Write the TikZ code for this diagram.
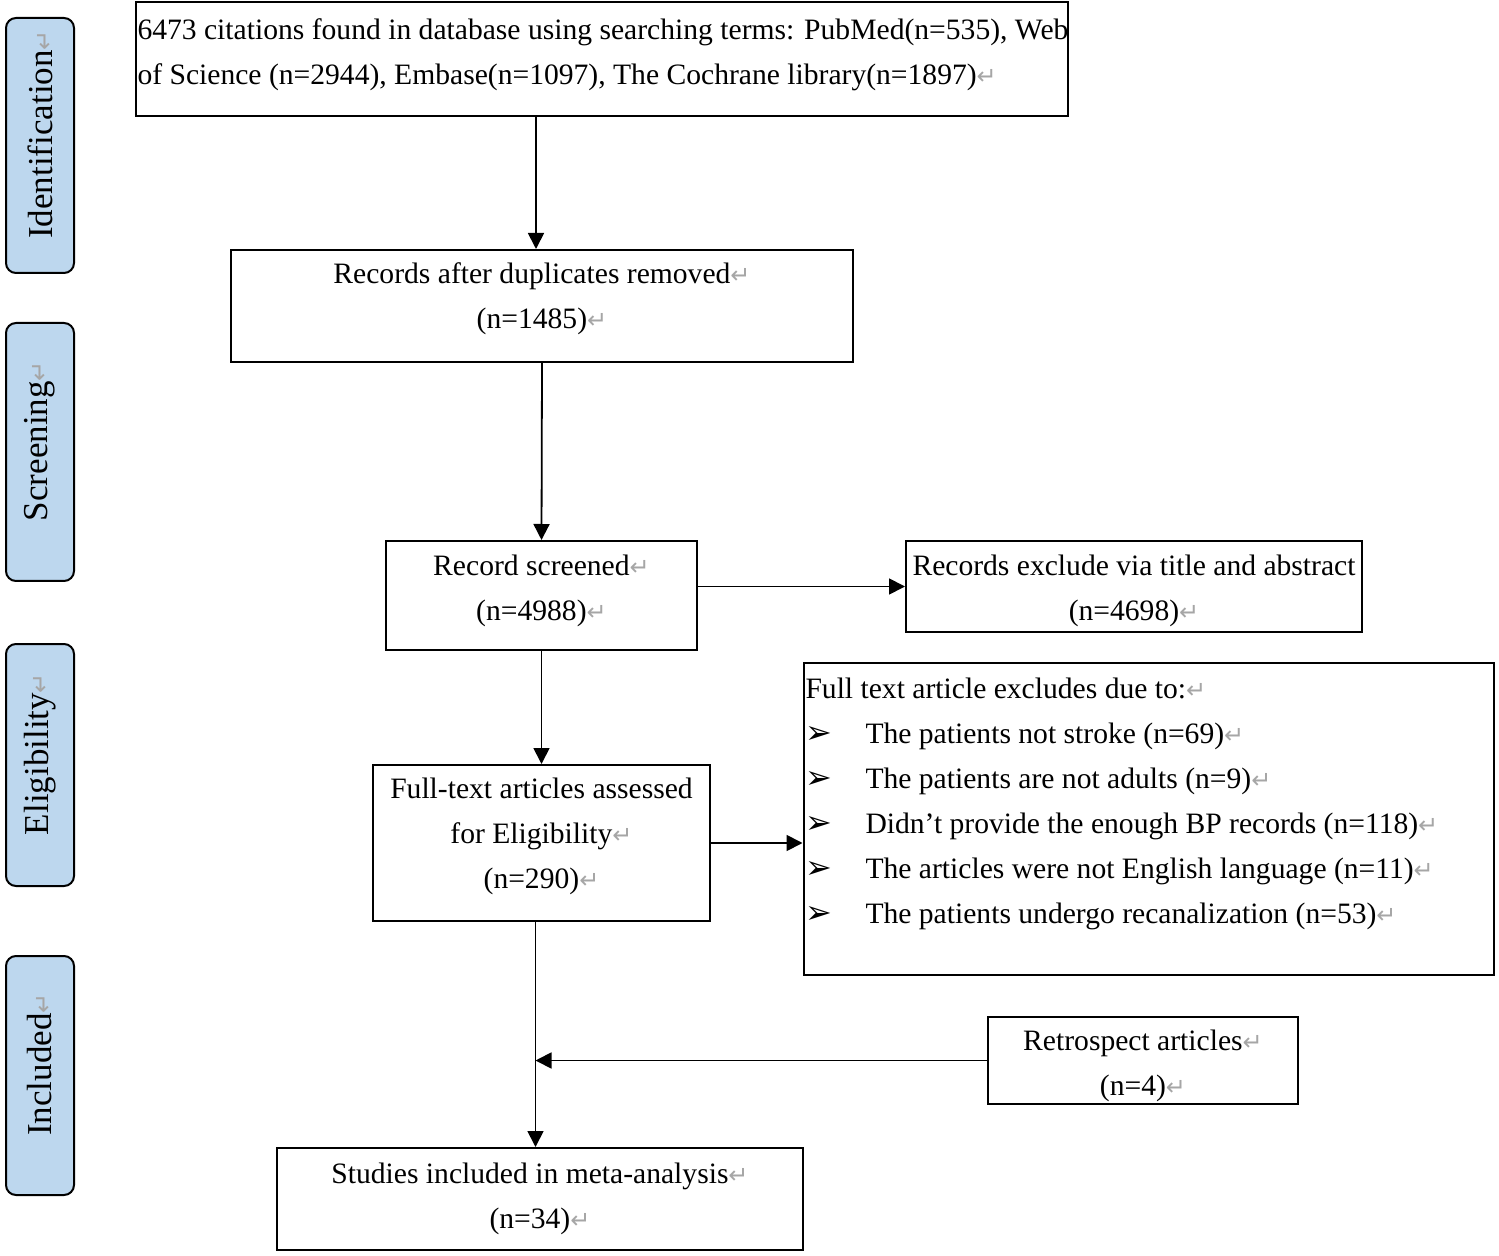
\documentclass[tikz,border=0pt]{standalone}
\usepackage{fontspec}
\setmainfont{Liberation Serif}
\newfontfamily\symfont{DejaVu Sans}
\usepackage{tikz}
\usetikzlibrary{arrows.meta}
\usetikzlibrary{calc}

\definecolor{stageblue}{RGB}{189,215,238}
\newcommand{\pmark}{{\symfont\color{black!35}\fontsize{12}{12}\selectfont ↵}}   %paragraph mark.
\newcommand{\exbullet}{\makebox[30pt][l]{{\symfont\fontsize{16}{16}\selectfont ➢}}}

\begin{document}
\begin{tikzpicture}[x=0.5pt,y=-0.5pt,
	every node/.style={font=\fontsize{14.8}{22.5}\selectfont},
	box/.style={draw,line width=1pt,inner sep=1pt,align=center},
	stage/.style={draw,line width=1pt,rounded corners=5pt,fill=stageblue,rotate=90,
		minimum height=34pt,font=\fontsize{17.5}{17.5}\selectfont},
	arr/.style={-{Triangle[length=8pt,width=8pt]},line width=0.9pt}]
				\useasboundingbox (0,0) rectangle (1499,1256);
				
				% Stages on the left.
				\node[stage,minimum width=127.5pt] (ident) at (40,145.5) {\hspace{11pt}Identification\pmark};
				\node[stage,minimum width=129pt] (screen) at (40,452) {\hspace{11pt}Screening\pmark};
				\node[stage,minimum width=121pt] (elig) at (40,765) {\hspace{11pt}Eligibility\pmark};
				\node[stage,minimum width=119.5pt] (inclst) at (40,1075.5) {\hspace{11pt}Included\pmark};
				
				% Main column.
				\node[box,inner xsep=1pt,inner ysep=8.5pt] (cit) at (601.5,59)
				{\parbox[c][40pt][t]{464pt}{\mbox{6473 citations found in database using searching terms: PubMed(n=535), Web}\\ \mbox{of Science (n=2944), Embase(n=1097), The Cochrane library(n=1897)\pmark}}};
				\node[box,minimum width=311pt,minimum height=56pt,text depth=10.3pt] (recs) at (542,306)
				{Records after duplicates removed\pmark\\(n=1485)\pmark};
				\node[box,minimum width=155.5pt,minimum height=54.5pt,text depth=7.3pt] (scr) at (541.5,595.5)
				{Record screened\pmark\\(n=4988)\pmark};
				\node[box,minimum width=168.5pt,minimum height=78pt,text depth=9.3pt] (full) at (541.5,843)
				{Full-text articles assessed\\for Eligibility\pmark\\(n=290)\pmark};
				\node[box,minimum width=263pt,minimum height=51pt] (incl) at (540,1199)
				{Studies included in meta-analysis\pmark\\(n=34)\pmark};
				
				% Side boxes.
				\node[box,minimum width=228pt,minimum height=45.5pt] (excl) at (1134,586.5)
				{\rule{0pt}{15pt}Records exclude via title and abstract\\(n=4698)\pmark};
				\node[box,inner xsep=1pt,inner ysep=7.5pt] (ftex) at (1148.5,819)
				{\parbox[c][141pt][t]{343pt}{\raggedright Full text article excludes due to:\pmark\\
						\exbullet The patients not stroke (n=69)\pmark\\
						\exbullet The patients are not adults (n=9)\pmark\\
						\exbullet Didn’t provide the enough BP records (n=118)\pmark\\
						\exbullet The articles were not English language (n=11)\pmark\\
						\exbullet The patients undergo recanalization (n=53)\pmark}};
				\node[box,minimum width=155pt,minimum height=43.5pt] (retro) at (1143,1060.5)
				{\rule{0pt}{16pt}Retrospect articles\pmark\\(n=4)\pmark};
				
				% Arrows.
				\coordinate (join) at ([xshift=-3pt]full.south |- retro.west);
				\draw[arr] ([xshift=-3pt]cit.south -| recs.north) -- ([xshift=-3pt]recs.north);
				\draw[arr] (recs.south) -- (scr.north);
				\draw[arr] (scr.east |- excl.west) -- (excl.west);
				\draw[arr] (scr.south) -- (full.south |- scr.south) -- (full.north);
				\draw[arr] (full.east) -- (full.east -| ftex.west);
				\draw[arr] ([xshift=-3pt]full.south) -- ([xshift=-3pt]full.south |- incl.north);
				\draw[arr] (retro.west) -- (join);
				
\end{tikzpicture}
\end{document}
